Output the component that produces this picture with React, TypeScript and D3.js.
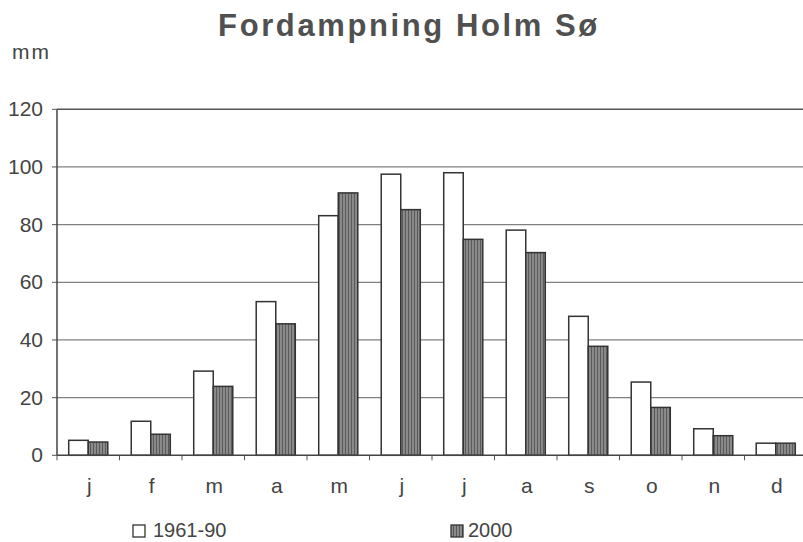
import React from "react";
import * as d3 from "d3";

const months = ["j", "f", "m", "a", "m", "j", "j", "a", "s", "o", "n", "d"];
const normal = [5.2, 11.8, 29.2, 53.3, 83.1, 97.5, 98, 78.1, 48.2, 25.4, 9.2, 4.2];
const y2000 = [4.6, 7.3, 23.9, 45.6, 91, 85.2, 74.9, 70.3, 37.8, 16.6, 6.8, 4.2];
const yTicks = [0, 20, 40, 60, 80, 100, 120];
const seriesNames = ["1961-90", "2000"];

const W = 803;
const H = 542;
const left = 57;
const right = 807;
const top = 109.3;
const bottom = 455.3;
const font = "'Liberation Sans', Arial, sans-serif";

export default function App() {
  const idx = months.map((_, i) => i);
  const x = d3.scaleBand<number>().domain(idx).range([left, right]).paddingInner(0).paddingOuter(0);
  const inner = d3.scaleBand<number>().domain([0, 1]).range([0, x.bandwidth()]).paddingOuter(0.6).paddingInner(0);
  const y = d3.scaleLinear().domain([0, 120]).range([bottom, top]);
  const bw = inner.bandwidth();

  return (
    <svg width={W} height={H} style={{ position: "absolute", left: 0, top: 0, background: "#fff" }}>
      <defs>
        <pattern id="hatch" width="3" height="4" patternUnits="userSpaceOnUse">
          <rect width="3" height="4" fill="#8a8a8a" />
          <rect width="1" height="4" fill="#5a5a5a" />
        </pattern>
      </defs>
      <text x={409} y={36} textAnchor="middle" fontFamily={font} fontWeight="bold" fontSize={31} letterSpacing={2.6} fill="#505050">
        Fordampning Holm Sø
      </text>
      <text x={12} y={59} fontFamily={font} fontSize={21} letterSpacing={2} fill="#444">mm</text>
      {yTicks.map((t) => (
        <g key={t}>
          {t > 0 && <line x1={left} x2={right} y1={y(t)} y2={y(t)} stroke={t === 120 ? "#555" : "#808080"} strokeWidth={t === 120 ? 1.5 : 1.2} />}
          <line x1={left - 5} x2={left} y1={y(t)} y2={y(t)} stroke="#555" strokeWidth={1} />
          <text x={43} y={y(t) + 7} textAnchor="end" fontFamily={font} fontSize={21} fill="#444">{t}</text>
        </g>
      ))}
      {idx.map((i) => (
        <g key={i}>
          <rect x={(x(i) as number) + (inner(0) as number)} y={y(normal[i])} width={bw} height={bottom - y(normal[i])} fill="#fff" stroke="#333" strokeWidth={1.5} />
          <rect x={(x(i) as number) + (inner(1) as number)} y={y(y2000[i])} width={bw} height={bottom - y(y2000[i])} fill="url(#hatch)" stroke="#333" strokeWidth={1.5} />
          <text x={(x(i) as number) + x.bandwidth() / 2 + 1} y={493} textAnchor="middle" fontFamily={font} fontSize={21} fill="#444">{months[i]}</text>
        </g>
      ))}
      {d3.range(13).map((k) => {
        const xx = left + k * x.bandwidth();
        return <line key={k} x1={xx} x2={xx} y1={bottom} y2={bottom + 5} stroke="#555" strokeWidth={1} />;
      })}
      <line x1={left} x2={right} y1={bottom} y2={bottom} stroke="#444" strokeWidth={1.5} />
      <line x1={left} x2={left} y1={top} y2={bottom} stroke="#444" strokeWidth={1.5} />
      <g>
        <rect x={133} y={525} width={12} height={12} fill="#fff" stroke="#333" strokeWidth={1.3} />
        <text x={153} y={537} fontFamily={font} fontSize={20} fill="#444">{seriesNames[0]}</text>
        <rect x={451} y={525} width={12} height={12} fill="url(#hatch)" stroke="#333" strokeWidth={1.3} />
        <text x={468} y={537} fontFamily={font} fontSize={20} fill="#444">{seriesNames[1]}</text>
      </g>
    </svg>
  );
}
